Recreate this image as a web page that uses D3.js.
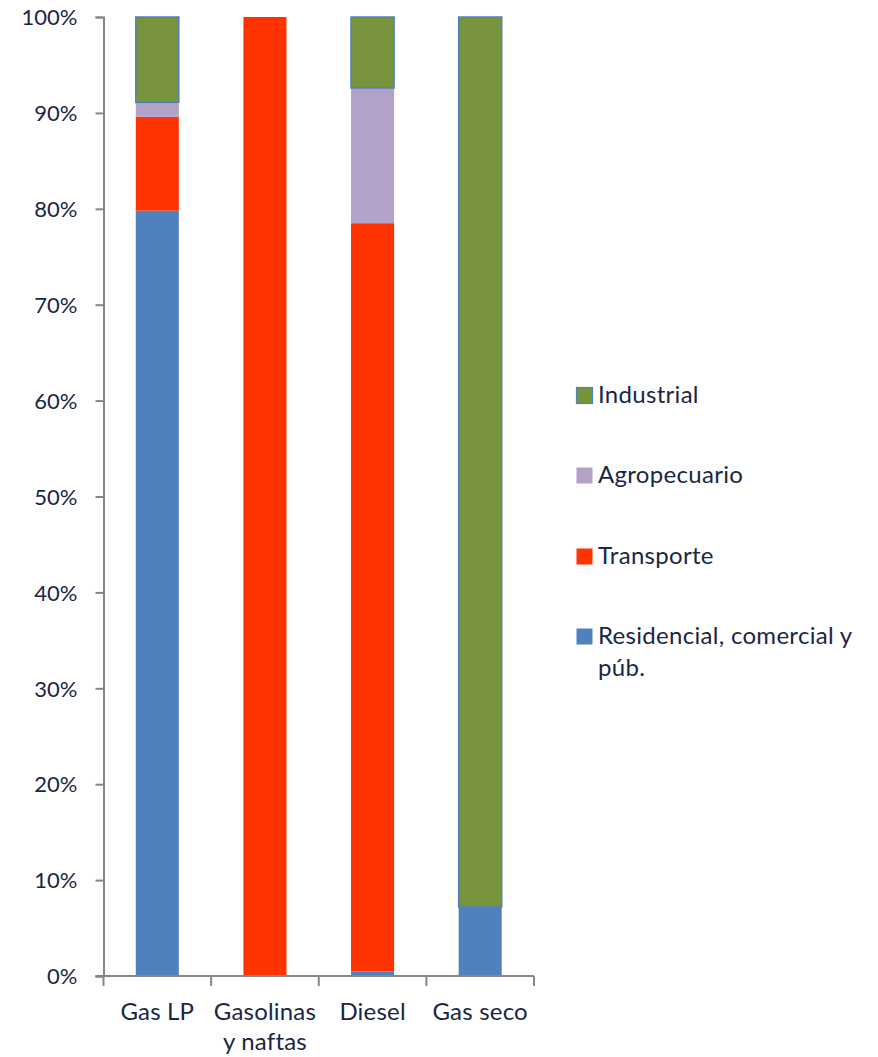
<!DOCTYPE html>
<html><head><meta charset="utf-8">
<script src="https://cdn.jsdelivr.net/npm/d3@7"></script>
<style>body{margin:0;background:#fff}svg{display:block}</style>
</head><body>
<svg id="c" width="878" height="1057"></svg>
<script>
const categories = [["Gas LP"], ["Gasolinas", "y naftas"], ["Diesel"], ["Gas seco"]];
const catKeys = ["Gas LP", "Gasolinas y naftas", "Diesel", "Gas seco"];
const seriesNames = ["Residencial, comercial y púb.", "Transporte", "Agropecuario", "Industrial"];
const residencial = [79.8, 0, 0.5, 7.2];
const transporte = [9.8, 100, 78.0, 0];
const agropecuario = [1.5, 0, 14.1, 0];
const industrial = [8.9, 0, 7.4, 92.8];
const yTicks = [0, 10, 20, 30, 40, 50, 60, 70, 80, 90, 100];
const colors = ["#4F81BD", "#FF3300", "#B3A2C7", "#77933C"];

const svg = d3.select("#c");
const font = "Lato, 'Open Sans', sans-serif";
const textCol = "#1a2744";
const axisCol = "#868686";

const x = d3.scaleBand().domain(catKeys).range([103.5, 534]).paddingInner(0.6).paddingOuter(0.3);
const y = d3.scaleLinear().domain([0, 100]).range([976, 17]);

const rows = catKeys.map((k, i) => ({key: k, s0: residencial[i], s1: transporte[i], s2: agropecuario[i], s3: industrial[i]}));
const stack = d3.stack().keys(["s0", "s1", "s2", "s3"])(rows);

const g = svg.append("g");
stack.forEach((layer, li) => {
  g.selectAll(null).data(layer).enter().append("rect")
    .attr("x", d => x(d.data.key))
    .attr("width", x.bandwidth())
    .attr("y", d => y(d[1]))
    .attr("height", d => Math.max(0, y(d[0]) - y(d[1])))
    .attr("fill", colors[li])
    .attr("stroke", li === 3 ? "#4F81BD" : "none")
    .attr("stroke-width", li === 3 ? 1.5 : 0)
    .style("display", d => (d[1] - d[0]) > 0 ? null : "none");
});

// Y axis
const yAxis = svg.append("g").attr("transform", "translate(103.5,0)")
  .call(d3.axisLeft(y).tickValues(yTicks).tickSize(8).tickPadding(18).tickFormat(d => d + "%"));
yAxis.select(".domain").attr("stroke", axisCol).attr("stroke-width", 2);
yAxis.selectAll(".tick line").attr("stroke", axisCol).attr("stroke-width", 2);
yAxis.selectAll(".tick text").attr("fill", textCol).style("font-family", font).style("font-size", "22px").attr("dy", "0.35em");

// X axis
const xAxisG = svg.append("g");
xAxisG.append("line").attr("x1", 95.5).attr("x2", 534).attr("y1", y(0)).attr("y2", y(0)).attr("stroke", axisCol).attr("stroke-width", 2);
const edges = [103.5].concat(catKeys.map((k, i) => 103.5 + (i + 1) * (534 - 103.5) / 4));
xAxisG.selectAll(null).data(edges).enter().append("line")
  .attr("x1", d => d).attr("x2", d => d).attr("y1", y(0)).attr("y2", y(0) + 10)
  .attr("stroke", axisCol).attr("stroke-width", 2);
catKeys.forEach((k, i) => {
  const cx = x(k) + x.bandwidth() / 2;
  const t = svg.append("text").attr("x", cx).attr("y", 1020)
    .attr("text-anchor", "middle").attr("fill", textCol).style("font-family", font).style("font-size", "24px").style("letter-spacing", "0.2px");
  categories[i].forEach((line, j) => t.append("tspan").attr("x", cx).attr("dy", j === 0 ? 0 : 30).text(line));
});

// Legend
const legendItems = [
  {name: ["Industrial"], c: colors[3], stroke: true, base: 403},
  {name: ["Agropecuario"], c: colors[2], base: 483},
  {name: ["Transporte"], c: colors[1], base: 564},
  {name: ["Residencial, comercial y", "púb."], c: colors[0], base: 644}
];
legendItems.forEach(it => {
  svg.append("rect").attr("x", 576.5).attr("y", it.base - 15.5).attr("width", 16).attr("height", 16)
    .attr("fill", it.c).attr("stroke", it.stroke ? "#4F81BD" : "none").attr("stroke-width", it.stroke ? 1.2 : 0);
  const t = svg.append("text").attr("x", 598).attr("y", it.base).attr("fill", textCol)
    .style("font-family", font).style("font-size", "24px").style("letter-spacing", "0.3px");
  it.name.forEach((line, j) => t.append("tspan").attr("x", 598).attr("dy", j === 0 ? 0 : 32).text(line));
});
</script>
</body></html>
